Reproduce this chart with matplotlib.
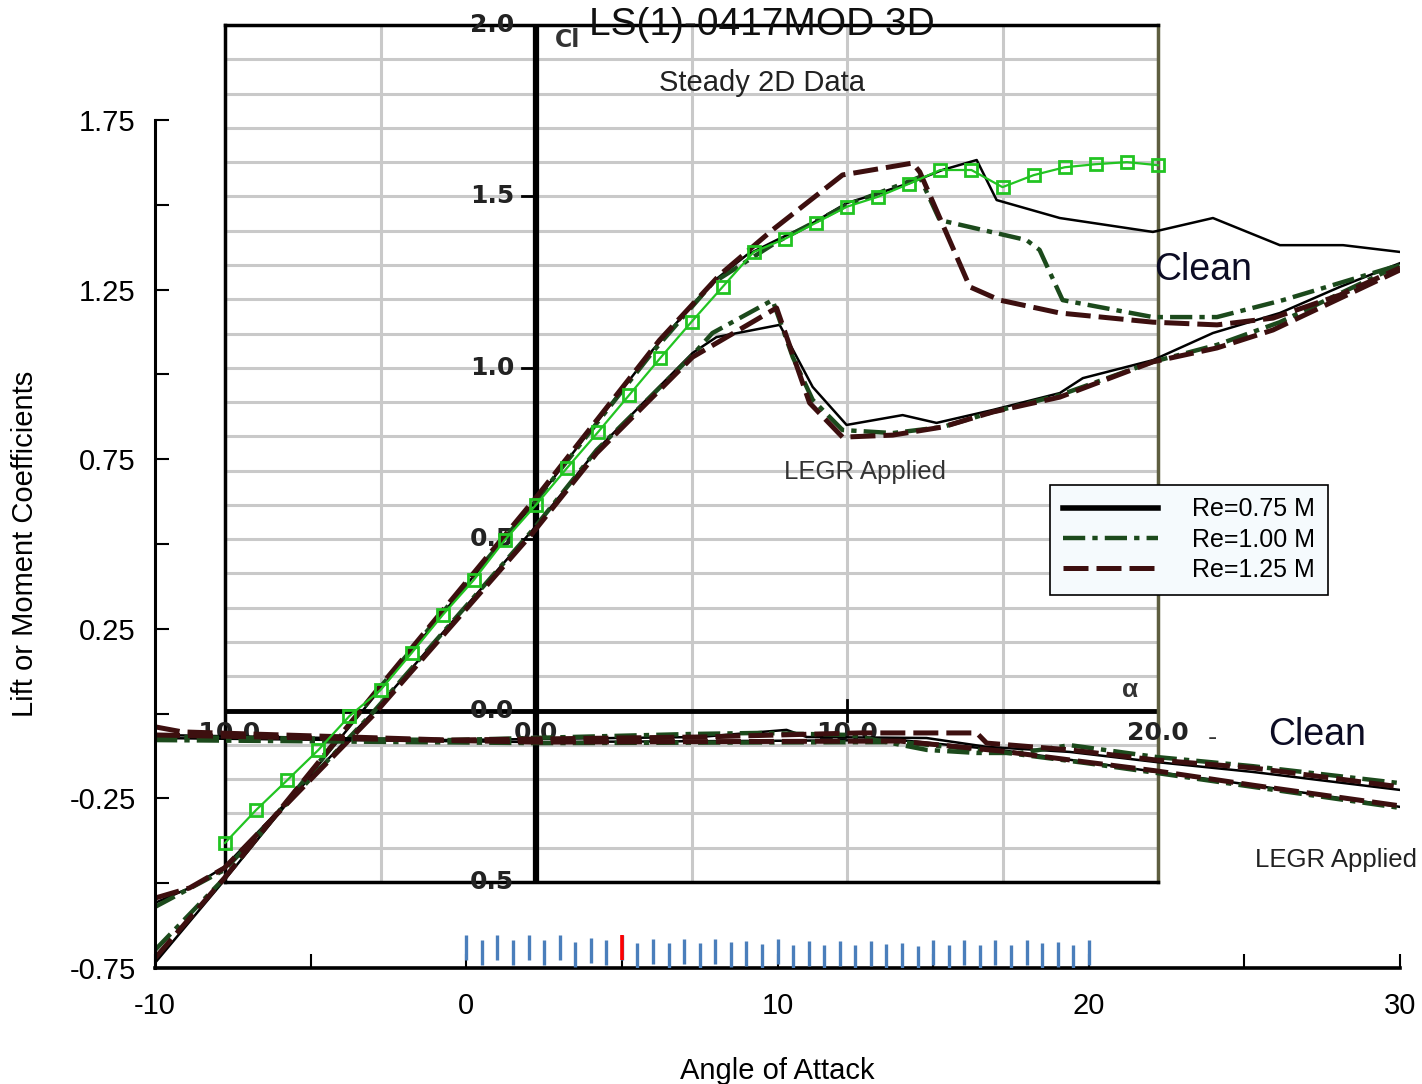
import numpy as np
import matplotlib
matplotlib.use("Agg")
import matplotlib.pyplot as plt
from matplotlib.lines import Line2D

plt.rcParams['font.family'] = ['Liberation Sans', 'DejaVu Sans']

# ---- outer chart data: angle of attack (deg) vs coefficient ----
# clean, lift
clean_075_x = [-10, -7.77, -2.79, 2.26, 5.99, 7.91, 9.01, 9.97, 11.13, 12.22, 13.28, 14.24, 15.31, 16.40,
               17.04, 19.07, 22.06, 23.99, 26.14, 28.17, 30]
clean_075_y = [-0.735, -0.491, 0.069, 0.630, 1.072, 1.272, 1.352, 1.396, 1.446, 1.505, 1.535, 1.564, 1.603, 1.632,
               1.514, 1.461, 1.420, 1.461, 1.381, 1.381, 1.361]
clean_100_x = [-10, -7.77, -2.79, 2.26, 5.99, 7.91, 9.97, 12.22, 14.34, 14.57, 15.21, 18.00, 18.42, 19.16,
               22.06, 24.12, 26.24, 30]
clean_100_y = [-0.697, -0.485, 0.075, 0.630, 1.066, 1.269, 1.390, 1.499, 1.573, 1.582, 1.455, 1.396, 1.367, 1.219,
               1.169, 1.169, 1.219, 1.323]
clean_125_x = [-10, -7.77, -2.79, 2.26, 6.21, 8.14, 9.84, 12.09, 14.34, 14.57, 16.18, 17.14, 19.07, 22.06,
               24.12, 25.92, 28.07, 30]
clean_125_y = [-0.721, -0.485, 0.078, 0.639, 1.101, 1.293, 1.426, 1.588, 1.623, 1.597, 1.258, 1.219, 1.181, 1.154,
               1.146, 1.166, 1.234, 1.314]

# LEGR applied, lift
legr_075_x = [-10, -8.89, -7.77, -3.01, 2.13, 4.19, 7.27, 8.04, 10.07, 11.13, 12.22, 14.02, 15.11, 16.91,
              19.07, 19.81, 22.06, 23.99, 26.14, 28.07, 30]
legr_075_y = [-0.558, -0.514, -0.452, 0.002, 0.541, 0.777, 1.063, 1.110, 1.146, 0.963, 0.851, 0.880, 0.857, 0.895,
              0.945, 0.989, 1.042, 1.122, 1.181, 1.258, 1.328]
legr_100_x = [-10, -7.77, -3.01, 2.13, 4.19, 7.27, 7.91, 9.84, 10.49, 11.13, 12.09, 13.70, 15.31, 16.91,
              19.07, 22.06, 24.12, 26.14, 30]
legr_100_y = [-0.570, -0.461, 0.002, 0.541, 0.777, 1.057, 1.122, 1.219, 1.051, 0.925, 0.836, 0.827, 0.845, 0.889,
              0.939, 1.037, 1.087, 1.154, 1.323]
legr_125_x = [-10, -8.89, -7.77, -3.01, 2.13, 4.19, 7.27, 9.97, 11.03, 12.09, 13.70, 15.31, 16.91, 19.07,
              22.06, 24.12, 25.92, 30]
legr_125_y = [-0.544, -0.514, -0.455, -0.007, 0.532, 0.768, 1.051, 1.196, 0.916, 0.815, 0.821, 0.845, 0.889, 0.933,
              1.037, 1.078, 1.131, 1.308]

# moment curves
cm_clean_075_x = [-10, -0.54, 7.49, 10.29, 10.94, 14.79, 16.72, 19.39, 22.18, 25.27, 30]
cm_clean_075_y = [-0.063, -0.078, -0.069, -0.048, -0.069, -0.072, -0.098, -0.113, -0.143, -0.172, -0.225]
cm_clean_100_x = [-10, -0.54, 7.27, 9.42, 12.32, 14.79, 16.40, 17.78, 19.39, 22.18, 25.27, 30]
cm_clean_100_y = [-0.069, -0.078, -0.060, -0.057, -0.063, -0.107, -0.116, -0.116, -0.093, -0.128, -0.155, -0.205]
cm_clean_125_x = [-10, -9.12, -0.54, 7.49, 12.64, 16.40, 16.72, 19.39, 22.18, 25.27, 30]
cm_clean_125_y = [-0.039, -0.054, -0.078, -0.069, -0.057, -0.057, -0.087, -0.107, -0.137, -0.160, -0.216]
cm_legr_075_x = [-10, 2.26, 13.93, 17.14, 19.93, 22.18, 25.27, 30]
cm_legr_075_y = [-0.072, -0.084, -0.078, -0.107, -0.143, -0.172, -0.211, -0.275]
cm_legr_100_x = [-10, 2.26, 13.93, 17.14, 19.93, 22.18, 25.27, 30]
cm_legr_100_y = [-0.078, -0.087, -0.084, -0.113, -0.146, -0.175, -0.216, -0.278]
cm_legr_125_x = [-10, 2.26, 13.93, 17.14, 19.93, 22.18, 25.27, 30]
cm_legr_125_y = [-0.063, -0.084, -0.081, -0.110, -0.143, -0.169, -0.211, -0.272]

# ---- inner (pasted) chart: steady 2D data, alpha vs Cl ----
steady_alpha = list(range(-10, 21))
steady_cl = [-0.386, -0.290, -0.203, -0.115, -0.016, 0.060, 0.168, 0.279, 0.381, 0.498, 0.600,
             0.708, 0.813, 0.921, 1.029, 1.134, 1.236, 1.338, 1.376, 1.423, 1.470,
             1.499, 1.537, 1.577, 1.577, 1.527, 1.562, 1.585, 1.594, 1.600, 1.591]

# blue marks along the bottom axis
rug_x = [0, 0.5, 1, 1.5, 2, 2.5, 3, 3.5, 4, 4.5, 5, 5.5, 6, 6.5, 7, 7.5, 8, 8.5, 9, 9.5, 10,
         10.5, 11, 11.5, 12, 12.5, 13, 13.5, 14, 14.5, 15, 15.5, 16, 16.5, 17, 17.5, 18, 18.5, 19, 19.5, 20]
rug_top = [-0.653, -0.667, -0.653, -0.667, -0.653, -0.667, -0.653, -0.673, -0.662, -0.667, -0.653,
           -0.676, -0.664, -0.676, -0.664, -0.676, -0.664, -0.673, -0.670, -0.679, -0.664,
           -0.682, -0.670, -0.682, -0.670, -0.682, -0.670, -0.679, -0.676, -0.685, -0.667,
           -0.682, -0.667, -0.682, -0.667, -0.682, -0.667, -0.676, -0.673, -0.682, -0.667]
rug_len = 0.074
rug_red = 5

re_labels = ['Re=0.75 M', 'Re=1.00 M', 'Re=1.25 M']

BLACK = 'black'
GREEN = '#1c4a1c'
MAROON = '#3d0f0f'
dashdot = (0, (5, 1.6, 1.2, 1.6))
dashed = (0, (5, 1.6))

W, H = 1422, 1084
fig = plt.figure(figsize=(W / 100, H / 100), dpi=100)

# inner chart frame and grid
axi = fig.add_axes([225 / W, 1 - 882 / H, 933 / W, 857 / H])
axi.set_xlim(-10, 20)
axi.set_ylim(-0.5, 2.0)
axi.set_xticks(np.arange(-10, 21, 5))
axi.set_yticks(np.arange(-0.5, 2.01, 0.1))
axi.grid(True, color='#c9c9c9', lw=2.2)
axi.tick_params(length=0, labelbottom=False, labelleft=False)
for s in axi.spines.values():
    s.set_linewidth(2.5)
axi.spines['right'].set_color('#5e5e40')
axi.axvline(0, color='black', lw=4.5)
axi.axhline(0, color='black', lw=3.5)

tick_font = dict(fontsize=18, fontweight='bold', color='#222222', family='DejaVu Sans')
for v, s in zip([2.0, 1.5, 1.0, 0.5, 0.0, -0.5], ['2.0', '1.5', '1.0', '0.5', '0.0', '0.5']):
    axi.text(-0.7, v, s, ha='right', va='center', **tick_font)
    axi.plot([-0.45, 0], [v, v], color='black', lw=2)
for v, s in zip([-10, 0, 10, 20], ['-10.0', '0.0', '10.0', '20.0']):
    axi.text(v, -0.065, s, ha='center', va='center', **tick_font)
axi.plot([10, 10], [-0.03, 0.03], color='black', lw=2)
axi.text(19.1, 0.06, 'α', ha='center', va='center', fontsize=19, fontweight='bold', color='#333333')
axi.text(1.0, 1.955, 'Cl', ha='center', va='center', fontsize=17, fontweight='bold', color='#333333',
         family='DejaVu Sans')

# outer axes
ax = fig.add_axes([155 / W, 1 - 968 / H, 1245 / W, 848 / H])
ax.set_zorder(2)
ax.patch.set_alpha(0)
ax.set_xlim(-10, 30)
ax.set_ylim(-0.75, 1.75)

lift = [(clean_075_x, clean_075_y, legr_075_x, legr_075_y),
        (clean_100_x, clean_100_y, legr_100_x, legr_100_y),
        (clean_125_x, clean_125_y, legr_125_x, legr_125_y)]
moment = [(cm_clean_075_x, cm_clean_075_y, cm_legr_075_x, cm_legr_075_y),
          (cm_clean_100_x, cm_clean_100_y, cm_legr_100_x, cm_legr_100_y),
          (cm_clean_125_x, cm_clean_125_y, cm_legr_125_x, cm_legr_125_y)]
styles = [dict(color=BLACK, ls='-', lw=1.8),
          dict(color=GREEN, ls=dashdot, lw=3.2),
          dict(color=MAROON, ls=dashed, lw=3.6)]

for (cx, cy, lx, ly), st in zip(lift, styles):
    ax.plot(cx, cy, **st)
    ax.plot(lx, ly, **st)
for (cx, cy, lx, ly), st in zip(moment, styles):
    ax.plot(cx, cy, **st)
    ax.plot(lx, ly, **st)

# steady 2D data, drawn through the inner chart scale
ax.plot(steady_alpha, steady_cl, color='#22c422', lw=1.6, marker='s', ms=9, mfc='none', mew=2,
        transform=axi.transData, clip_on=False, zorder=4)

# blue marks
rug_bot = [t - rug_len for t in rug_top]
ax.vlines(rug_x, rug_bot, rug_top, color='#4a7ebb', lw=2.4, zorder=3)
ax.vlines(rug_x[rug_red * 2], rug_bot[rug_red * 2], rug_top[rug_red * 2], color='red', lw=2.6, zorder=3)

ax.spines['top'].set_visible(False)
ax.spines['right'].set_visible(False)
ax.spines['left'].set_linewidth(2.2)
ax.spines['bottom'].set_linewidth(2.6)
ax.set_yticks(np.arange(-0.75, 1.76, 0.25))
ax.set_yticklabels(['-0.75', '', '-0.25', '', '0.25', '', '0.75', '', '1.25', '', '1.75'])
ax.set_xticks(np.arange(-10, 31, 5))
ax.set_xticklabels(['-10', '', '0', '', '10', '', '20', '', '30'])
ax.tick_params(axis='both', direction='in', length=10, width=1.5, labelsize=21)
ax.tick_params(axis='y', pad=14)
ax.tick_params(axis='x', pad=17)
ax.set_ylabel('Lift or Moment Coefficients', fontsize=21)
ax.yaxis.set_label_coords(-0.093, 0.5)
ax.set_xlabel('Angle of Attack', fontsize=21, va='top')
ax.xaxis.set_label_coords(0.5, -0.105)

ax.text(22.1, 1.308, 'Clean', fontsize=27, color='#0c0c24', ha='left', va='center')
ax.text(25.75, -0.063, 'Clean', fontsize=27, color='#0c0c24', ha='left', va='center')
ax.text(23.98, -0.072, '-', fontsize=20, color='#333333', ha='center', va='center')
ax.text(30.55, -0.432, 'LEGR Applied', fontsize=18.5, color='#222222', ha='right', va='center')
ax.text(12.8, 0.712, 'LEGR Applied', fontsize=18.5, color='#333333', ha='center', va='center')

fig.text(762 / W, 1 - 25 / H, 'LS(1)-0417MOD 3D', fontsize=28, ha='center', va='center', color='#111111')
fig.text(762 / W, 1 - 83 / H, 'Steady 2D Data', fontsize=21, ha='center', va='center', color='#222222')

handles = [Line2D([], [], color=BLACK, lw=4),
           Line2D([], [], color=GREEN, ls=dashdot, lw=3.2),
           Line2D([], [], color=MAROON, ls=dashed, lw=3.6)]
leg = ax.legend(handles, re_labels, loc='upper left', bbox_to_anchor=(1050 / W, 1 - 485 / H),
                bbox_transform=fig.transFigure, fontsize=18, fancybox=False, edgecolor='black',
                facecolor='#f5fafd', framealpha=1, handlelength=3.8, handletextpad=1.4,
                labelspacing=0.25, borderpad=0.5, borderaxespad=0)
leg.get_frame().set_linewidth(1.2)

fig.savefig('out.png', dpi=100)
